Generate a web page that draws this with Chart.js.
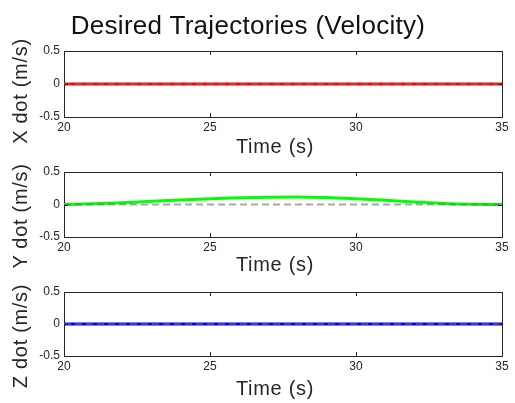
<!DOCTYPE html>
<html>
<head>
<meta charset="utf-8">
<script src="https://cdn.jsdelivr.net/npm/chart.js@4"></script>
<style>
  body { margin: 0; background: #fff; }
  #wrap { position: relative; width: 515px; height: 403px; overflow: hidden; font-family: "Liberation Sans", Arial, sans-serif; color: #262626; }
  canvas { position: absolute; left: 0; }
  .lbl { position: absolute; white-space: nowrap; font-size: 20px; line-height: 20px; letter-spacing: 0.7px; }
  .ylbl { transform: translate(-50%, -50%) rotate(-90deg); }
  .xlbl { transform: translateX(-50%); }
</style>
</head>
<body>
<div id="wrap">
  <canvas id="cx" width="515" height="100" style="top:38px"></canvas>
  <canvas id="cy" width="515" height="100" style="top:159px"></canvas>
  <canvas id="cz" width="515" height="100" style="top:279px"></canvas>
  <div class="lbl" style="left:0;top:10px;width:496px;text-align:center;font-size:26px;line-height:30px;letter-spacing:0.3px;color:#111">Desired Trajectories (Velocity)</div>
  <div class="lbl ylbl" style="left:20px;top:91px">X dot (m/s)</div>
  <div class="lbl ylbl" style="left:20px;top:216px">Y dot (m/s)</div>
  <div class="lbl ylbl" style="left:20px;top:336px">Z dot (m/s)</div>
  <div class="lbl xlbl" style="left:275px;top:136px">Time (s)</div>
  <div class="lbl xlbl" style="left:275px;top:254px">Time (s)</div>
  <div class="lbl xlbl" style="left:275px;top:378px">Time (s)</div>
</div>
<script>
// sample times (s)
const time = [20, 21, 22, 23, 24, 25, 26, 27, 28, 29, 30, 31, 32, 33, 34, 35];
// desired velocities
const xDot = [0, 0, 0, 0, 0, 0, 0, 0, 0, 0, 0, 0, 0, 0, 0, 0];
const yDot = [0, 0.01, 0.028, 0.05, 0.07, 0.088, 0.102, 0.113, 0.117, 0.107, 0.088, 0.066, 0.04, 0.016, 0.004, 0];
const zDot = [0, 0, 0, 0, 0, 0, 0, 0, 0, 0, 0, 0, 0, 0, 0, 0];
// dashed zero reference
const zeroRef = [0, 0, 0, 0, 0, 0, 0, 0, 0, 0, 0, 0, 0, 0, 0, 0];
const xTicks = [20, 25, 30, 35];
const yTicks = [-0.5, 0, 0.5];

const tickFont = { family: "'Liberation Sans', Arial, sans-serif", size: 12 };
const axisColor = '#262626';

// MATLAB style ticks pointing into the box
const innerTicks = {
  id: 'innerTicks',
  afterDraw(chart) {
    const { ctx, chartArea: a, scales } = chart;
    ctx.save();
    ctx.strokeStyle = axisColor;
    ctx.lineWidth = 1;
    ctx.beginPath();
    scales.x.ticks.forEach(t => {
      const px = Math.round(scales.x.getPixelForValue(t.value)) + 0.5;
      ctx.moveTo(px, a.bottom); ctx.lineTo(px, a.bottom - 4);
      ctx.moveTo(px, a.top); ctx.lineTo(px, a.top + 4);
    });
    scales.y.ticks.forEach(t => {
      const py = Math.round(scales.y.getPixelForValue(t.value)) + 0.5;
      ctx.moveTo(a.left, py); ctx.lineTo(a.left + 4, py);
      ctx.moveTo(a.right, py); ctx.lineTo(a.right - 4, py);
    });
    ctx.stroke();
    ctx.restore();
  }
};

function makeChart(id, values, color, padTop, xHeight, smooth) {
  const ctx = document.getElementById(id).getContext('2d');
  return new Chart(ctx, {
    type: 'line',
    data: {
      datasets: [{
        data: time.map((t, i) => ({ x: t, y: zeroRef[i] })),
        borderColor: 'rgba(110, 110, 110, 0.6)',
        borderWidth: 2,
        borderDash: [7, 4],
        pointRadius: 0
      }, {
        data: time.map((t, i) => ({ x: t, y: values[i] })),
        borderColor: color,
        borderWidth: 3,
        pointRadius: 0,
        cubicInterpolationMode: smooth ? 'monotone' : 'default'
      }]
    },
    options: {
      responsive: false,
      animation: false,
      devicePixelRatio: 1,
      layout: { padding: { top: padTop, right: 13, left: 0, bottom: 0 } },
      plugins: { legend: { display: false }, tooltip: { enabled: false } },
      scales: {
        x: {
          type: 'linear', position: 'bottom', min: 20, max: 35,
          afterBuildTicks: s => { s.ticks = xTicks.map(v => ({ value: v })); },
          ticks: { font: tickFont, color: axisColor, padding: 3, maxRotation: 0 },
          grid: { display: false, drawTicks: false },
          border: { display: true, color: axisColor, width: 1 },
          afterFit: s => { s.height = xHeight; }
        },
        y: {
          type: 'linear', min: -0.5, max: 0.5,
          afterBuildTicks: s => { s.ticks = yTicks.map(v => ({ value: v })); },
          ticks: { font: tickFont, color: axisColor, padding: 4 },
          grid: { display: false, drawTicks: false },
          border: { display: true, color: axisColor, width: 1 },
          afterFit: s => { s.width = 64; }
        },
        x2: {
          type: 'linear', position: 'top', min: 20, max: 35,
          ticks: { display: false },
          grid: { display: false, drawTicks: false },
          border: { display: true, color: axisColor, width: 1 },
          afterFit: s => { s.height = 0; }
        },
        y2: {
          type: 'linear', position: 'right', min: -0.5, max: 0.5,
          ticks: { display: false },
          grid: { display: false, drawTicks: false },
          border: { display: true, color: axisColor, width: 1 },
          afterFit: s => { s.width = 0; }
        }
      }
    },
    plugins: [innerTicks]
  });
}

makeChart('cx', xDot, '#ff0000', 13, 21, false);
makeChart('cy', yDot, '#00ff00', 13, 22, true);
makeChart('cz', zDot, '#0000ff', 13, 23, false);
</script>
</body>
</html>
